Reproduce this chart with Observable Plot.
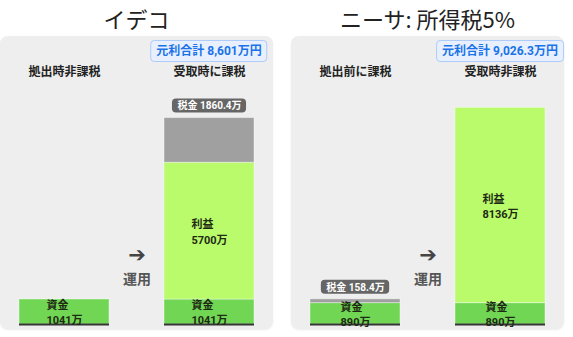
<!DOCTYPE html>
<html><head><meta charset="utf-8">
<script src="https://cdn.jsdelivr.net/npm/d3@7"></script>
<script src="https://cdn.jsdelivr.net/npm/@observablehq/plot@0.6"></script>
<style>
body{margin:0;background:#fff;font-family:Roboto,"Noto Sans CJK JP","Noto Sans",sans-serif;}
#root{position:relative;width:573px;height:337px;}
.col{position:absolute;top:0;width:273px;}
.title{height:36px;line-height:36px;text-align:center;font-size:22px;color:#222;white-space:nowrap;font-family:"Noto Sans CJK JP",sans-serif;}
.card{position:relative;height:293px;background:#eeeeee;border-radius:8px;box-shadow:0 1px 2px rgba(0,0,0,0.08);}
.card svg{display:block;}
.pill{position:absolute;top:4px;transform:translateX(-50%);white-space:nowrap;background:#e8f0fe;border:1px solid #aecbfa;border-radius:4px;color:#1a73e8;font-size:12px;font-weight:bold;line-height:16px;padding:2px 5px;}
g[aria-label="tax-pill"]{filter:drop-shadow(0 1px 1.2px rgba(0,0,0,0.35));}
</style></head><body><div id="root"></div><script>
const panelTitles = ["イデコ", "ニーサ: 所得税5%"];
const columnLabels = [["拠出時非課税", "受取時に課税"], ["拠出前に課税", "受取時非課税"]];
const principal = [1041, 890];
const profit = [5700, 8136];
const tax = [1860.4, 158.4];
const taxColumn = [1, 0];
const taxLabels = ["1860.4", "158.4"];
const totalLabels = ["8,601", "9,026.3"];
const kinds = ["資金", "利益", "税金"];
const kindColors = ["#70d654", "#b9fb6a", "#a0a0a0"];

const FONT = 'Roboto,"Noto Sans CJK JP","Noto Sans",sans-serif';
const ctx = document.createElement("canvas").getContext("2d");
function textWidth(s, font) { ctx.font = font; return ctx.measureText(s).width; }

const W = 273, H = 293, BAND = 90;
const root = document.getElementById("root");

panelTitles.forEach((title, p) => {
  const cols = columnLabels[p];
  const rows = [
    {col: cols[0], kind: "資金", value: principal[p], label: `資金\n${principal[p]}万`},
    {col: cols[1], kind: "資金", value: principal[p], label: `資金\n${principal[p]}万`},
    {col: cols[1], kind: "利益", value: profit[p], label: `利益\n${profit[p]}万`},
    {col: cols[taxColumn[p]], kind: "税金", value: tax[p], label: null, tlabel: `税金 ${taxLabels[p]}万`}
  ];
  // cumulative base within each column (data space)
  const acc = {};
  rows.forEach(r => { r.base = acc[r.col] || 0; r.top = r.base + r.value; r.mid = r.base + r.value / 2; acc[r.col] = r.top; });

  const labelMarks = rows.filter(r => r.label).map(r => {
    const w = d3.max(r.label.split("\n"), s => textWidth(s, `bold 11px ${FONT}`));
    return Plot.text([r], {x: "col", y: "mid", text: "label", textAnchor: "start", dx: -w / 2,
      lineAnchor: "middle", lineHeight: 1.38, fontSize: 11, fontWeight: "bold", fill: "#1f2a14"});
  });
  const taxRow = rows.find(r => r.kind === "税金");
  const pw = textWidth(taxRow.tlabel, `bold 10px ${FONT}`) + 10;
  const ins = (BAND - pw) / 2;

  const chart = Plot.plot({
    width: W, height: H,
    marginTop: 48, marginBottom: 5, marginLeft: 0, marginRight: 0,
    style: {background: "transparent", fontFamily: FONT, overflow: "visible"},
    x: {domain: cols, paddingInner: 0.38, paddingOuter: 0.13, axis: null},
    y: {domain: [0, 10000], axis: null},
    color: {domain: kinds, range: kindColors},
    marks: [
      Plot.barY(rows, Plot.stackY({x: "col", y: "value", fill: "kind", stroke: "#fff", strokeOpacity: 0.4, strokeWidth: 1})),
      Plot.tickY(cols, {x: d => d, y: () => 0, stroke: "#333", strokeWidth: 2}),
      ...labelMarks,
      Plot.barY([taxRow], {x: "col", y1: "top", y2: "top", insetTop: -19, insetBottom: 5, insetLeft: ins, insetRight: ins, rx: 4, fill: "#666", ariaLabel: "tax-pill"}),
      Plot.text([taxRow], {x: "col", y: "top", text: "tlabel", dy: -12, lineAnchor: "middle", fontSize: 10, fontWeight: "bold", fill: "#fff"}),
      Plot.text(cols, {x: d => d, text: d => d, frameAnchor: "top", lineAnchor: "middle", dy: -12, fontSize: 12, fontWeight: "bold", fill: "#222"}),
      Plot.text(["➔"], {text: d => d, frameAnchor: "bottom", lineAnchor: "middle", dy: -69, fontSize: 21, fill: "#444", fontWeight: "bold", fontFamily: "DejaVu Sans"}),
      Plot.text(["運用"], {text: d => d, frameAnchor: "bottom", lineAnchor: "middle", dy: -45, fontSize: 14, fill: "#555", fontWeight: "bold"})
    ]
  });

  const col = document.createElement("div");
  col.className = "col";
  col.style.left = (p === 0 ? 0 : 291) + "px";
  const t = document.createElement("div");
  t.className = "title"; t.textContent = title;
  const card = document.createElement("div");
  card.className = "card";
  card.appendChild(chart);
  const pill = document.createElement("div");
  pill.className = "pill";
  const xs = chart.scale("x");
  pill.style.left = (xs.apply(cols[1]) + xs.bandwidth / 2) + "px";
  pill.textContent = `元利合計 ${totalLabels[p]}万円`;
  card.appendChild(pill);
  col.appendChild(t); col.appendChild(card);
  root.appendChild(col);
});
</script></body></html>
